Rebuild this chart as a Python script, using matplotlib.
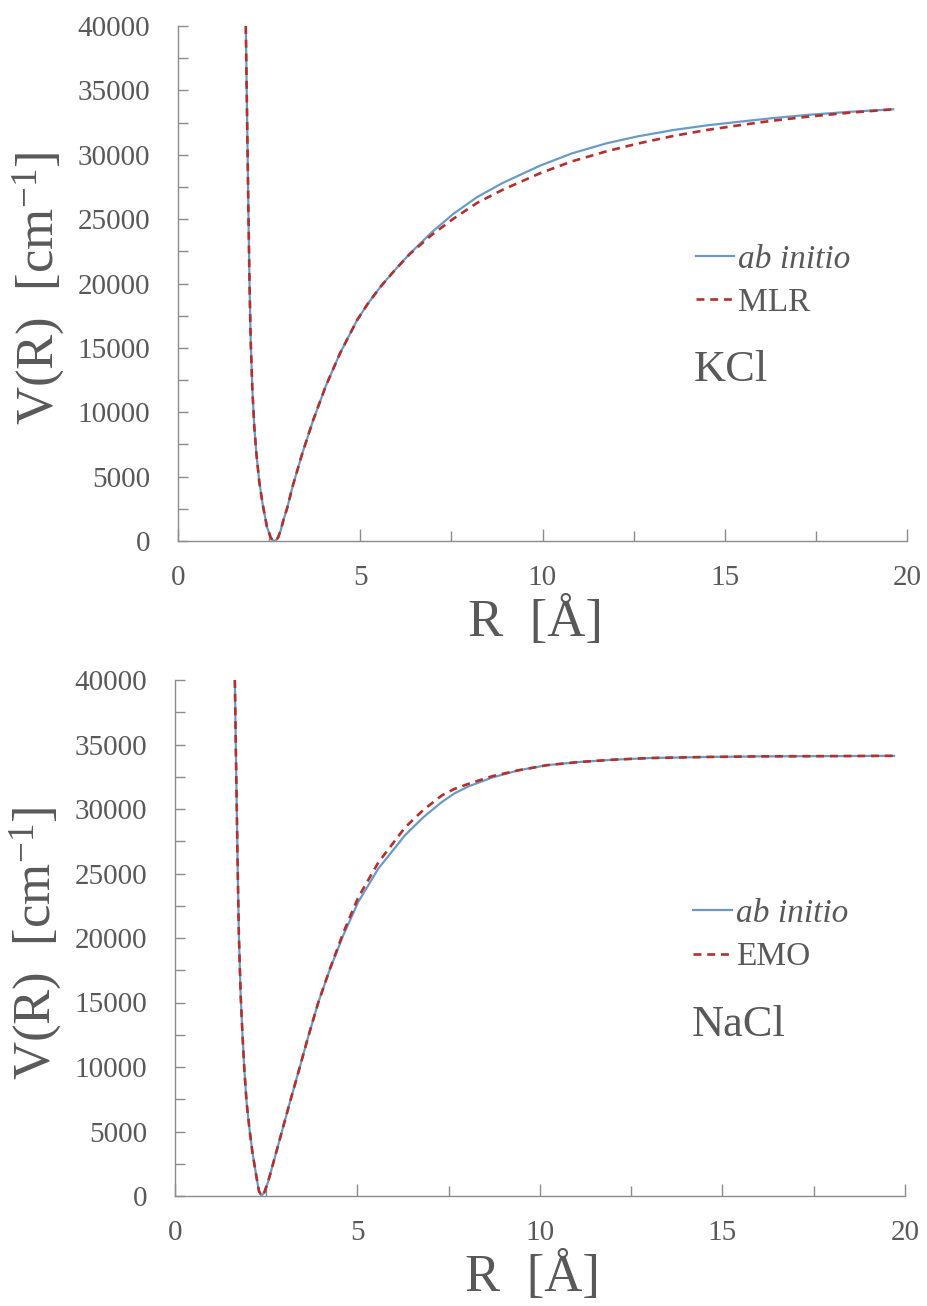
import matplotlib
matplotlib.use("Agg")
import matplotlib.pyplot as plt
from matplotlib.ticker import MultipleLocator

# ---------------- data ----------------
kcl_r_ab = [1.86, 1.885, 1.91, 1.935, 1.962, 1.995, 2.04, 2.09, 2.15, 2.23, 2.32, 2.44, 2.54,
            2.58, 2.64, 2.70, 2.75, 2.82, 2.89, 3.00, 3.14, 3.41, 3.71, 4.05, 4.44, 4.91,
            5.2, 5.55, 5.95, 6.36, 6.95, 7.55, 8.2, 8.9, 9.93, 10.8, 11.76, 12.6, 13.59,
            14.5, 15.42, 16.3, 17.25, 18.4, 19.62]
kcl_v_ab = [40000, 35000, 30000, 25000, 20000, 15500, 11800, 9000, 6800, 4600, 2900, 1100, 300,
            100, 0, 100, 300, 850, 1600, 2600, 4200, 6800, 9400, 12000, 14550, 17140,
            18400, 19730, 21050, 22320, 23950, 25400, 26700, 27800, 29150, 30100, 30890, 31420, 31920,
            32280, 32570, 32840, 33090, 33330, 33530]

kcl_r_mlr = kcl_r_ab
kcl_v_mlr = [40000, 35000, 30000, 25000, 20000, 15500, 11800, 9000, 6800, 4600, 2900, 1100, 300,
             100, 0, 100, 300, 850, 1600, 2600, 4200, 6800, 9400, 12000, 14550, 17140,
             18400, 19730, 21040, 22290, 23750, 25020, 26250, 27270, 28560, 29480, 30270, 30860, 31460,
             31920, 32300, 32640, 32950, 33260, 33530]

nacl_r_ab = [1.64, 1.665, 1.69, 1.72, 1.75, 1.80, 1.85, 1.90, 1.96, 2.04, 2.12, 2.24, 2.30,
             2.37, 2.45, 2.55, 2.65, 2.90, 3.15, 3.41, 3.65, 3.93, 4.25, 4.61, 5.02, 5.57,
             6.30, 6.8, 7.31, 7.65, 8.04, 8.7, 9.41, 10.2, 11.1, 12.0, 13.0, 14.5, 16.0, 19.7]
nacl_v_ab = [40000, 35000, 30540, 25000, 20210, 15500, 12450, 9800, 7290, 5200, 3410, 1340, 390,
             0, 300, 1100, 2120, 4700, 7290, 9900, 12350, 15040, 17620, 20210, 22790, 25380,
             27960, 29350, 30540, 31200, 31750, 32450, 33000, 33400, 33650, 33820, 33950, 34030, 34080, 34120]

nacl_r_emo = nacl_r_ab
nacl_v_emo = [40000, 35000, 30540, 25000, 20210, 15500, 12450, 9800, 7290, 5200, 3410, 1340, 390,
              0, 300, 1100, 2120, 4700, 7290, 9900, 12350, 15040, 17650, 20400, 23150, 25850,
              28560, 29920, 31050, 31550, 31950, 32550, 33000, 33400, 33650, 33820, 33950, 34030, 34080, 34120]

x_ticks = [0, 5, 10, 15, 20]
y_ticks = [0, 5000, 10000, 15000, 20000, 25000, 30000, 35000, 40000]

# ---------------- style ----------------
plt.rcParams['font.family'] = ['Liberation Serif', 'DejaVu Serif']
plt.rcParams['mathtext.fontset'] = 'custom'
plt.rcParams['mathtext.rm'] = 'Liberation Serif'
plt.rcParams['mathtext.it'] = 'Liberation Serif:italic'

TXT = '#595959'
SPINE = '#8c8c8c'
BLUE = '#6a9bc8'
RED = '#b3302c'

fig = plt.figure(figsize=(9.28, 13.06), dpi=100)

ax1 = fig.add_axes([178/928, 1-541/1306, (907-178)/928, (541-26)/1306])
ax2 = fig.add_axes([175/928, 1-1196/1306, (905-175)/928, (1196-680)/1306])

panels = [
    (ax1, kcl_r_ab, kcl_v_ab, kcl_r_mlr, kcl_v_mlr, 'MLR', 'KCl'),
    (ax2, nacl_r_ab, nacl_v_ab, nacl_r_emo, nacl_v_emo, 'EMO', 'NaCl'),
]

for ax, r1, v1, r2, v2, fitname, mol in panels:
    ax.plot(r1, v1, color=BLUE, lw=1.6, label='ab initio', solid_joinstyle='round')
    ax.plot(r2, v2, color=RED, lw=1.9, ls=(0, (3.0, 2.2)), label=fitname)
    ax.set_xlim(0, 20)
    ax.set_ylim(0, 40000)
    ax.set_xticks(x_ticks)
    ax.set_yticks(y_ticks)
    ax.xaxis.set_minor_locator(MultipleLocator(2.5))
    ax.yaxis.set_minor_locator(MultipleLocator(2500))
    for s in ['top', 'right']:
        ax.spines[s].set_visible(False)
    for s in ['left', 'bottom']:
        ax.spines[s].set_color(SPINE)
        ax.spines[s].set_linewidth(1.0)
    ax.tick_params(axis='both', which='both', direction='in', color=SPINE, width=1.0,
                   labelcolor=TXT, labelsize=21)
    ax.tick_params(axis='x', which='major', length=9, pad=17)
    ax.tick_params(axis='x', which='minor', length=7)
    ax.tick_params(axis='y', which='both', length=7, pad=20)
    ax.set_xlabel('R  [Å]', fontsize=38, color=TXT)
    ax.set_ylabel('V(R)  [cm$^{-1}$]', fontsize=38, color=TXT)
    ax.xaxis.set_label_coords(0.49, -0.108)
    ax.yaxis.set_label_coords(-0.152, 0.49)
    leg = ax.legend(loc='center left', bbox_to_anchor=(0.71, 0.505), frameon=False,
                    fontsize=24, handlelength=1.15, handletextpad=0.12, labelspacing=0.38,
                    borderaxespad=0, borderpad=0)
    for t in leg.get_texts():
        t.set_color(TXT)
    leg.get_texts()[0].set_style('italic')
    ax.text(0.708, 0.31, mol, transform=ax.transAxes, fontsize=32, color=TXT,
            ha='left', va='baseline')

fig.savefig('out.png', dpi=100, facecolor='white')
